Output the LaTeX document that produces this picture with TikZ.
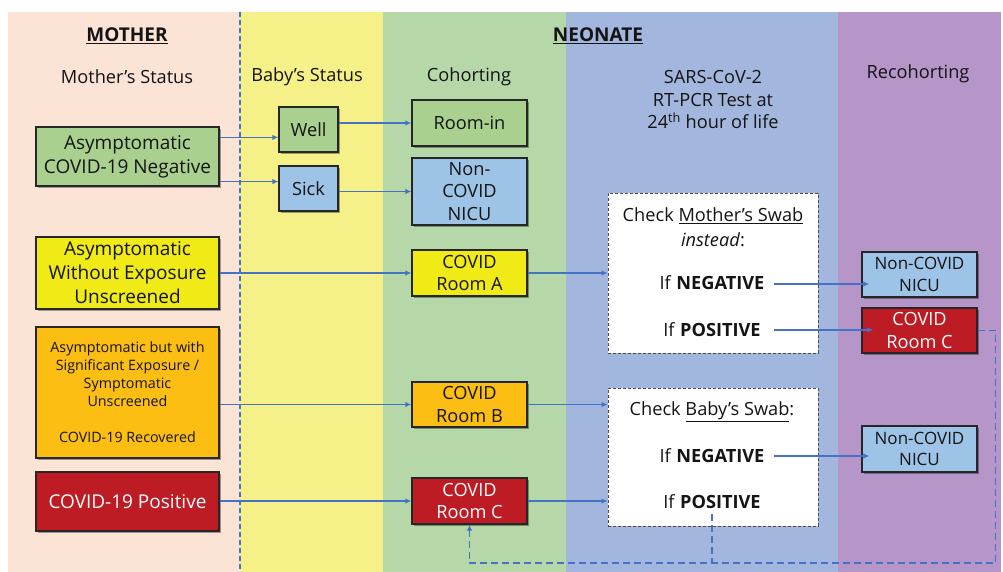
\documentclass[tikz,border=0pt]{standalone}
\usepackage{fontspec}
\setmainfont{Open Sans}
\usetikzlibrary{shadows,arrows.meta,calc}
\definecolor{bgpink}{RGB}{251,227,214}
\definecolor{bgyellow}{RGB}{245,240,135}
\definecolor{bggreen}{RGB}{182,215,168}
\definecolor{bgblue}{RGB}{163,183,222}
\definecolor{bgpurple}{RGB}{182,149,200}
\definecolor{bxgreen}{RGB}{169,208,142}
\definecolor{bxblue}{RGB}{157,195,230}
\definecolor{bxyellow}{RGB}{240,234,22}
\definecolor{bxorange}{RGB}{252,190,18}
\definecolor{bxred}{RGB}{190,28,36}
\definecolor{lnblue}{RGB}{68,114,196}
\definecolor{txt}{RGB}{20,20,20}
\newcommand\fsHead{\fontsize{19}{22}\selectfont}
\newcommand\fsCol{\fontsize{18.2}{22.5}\selectfont}
\newcommand\fsBox{\fontsize{19}{24}\selectfont}
\newcommand\fsMid{\fontsize{18.2}{22.5}\selectfont}
\newcommand\fsRe{\fontsize{17}{21.5}\selectfont}
\newcommand\fsSmall{\fontsize{14.3}{18}\selectfont}
\begin{document}
\begin{tikzpicture}[x=1pt,y=-1pt,
  box/.style={draw=black!85, line width=1.2pt, inner sep=0pt, align=center, text=txt,
    drop shadow={shadow xshift=2pt,shadow yshift=-2pt,opacity=0.35,fill=black}},
  chk/.style={draw=black!70, densely dashed, line width=0.8pt, fill=white, inner sep=0pt},
  lbl/.style={inner sep=1pt, align=center, text=txt},
  conn/.style={draw=lnblue, line width=1.4pt, -{Latex[length=6pt,width=5.5pt]}},
  dconn/.style={draw=lnblue, line width=1.4pt, dash pattern=on 7pt off 4pt},
]
\useasboundingbox (0,0) rectangle (1003,572);
\fill[white] (0,0) rectangle (1003,572);
% background bands
\fill[bgpink]   (8,12) rectangle (240,572);
\fill[bgyellow] (240,12) rectangle (383,572);
\fill[bggreen]  (383,12) rectangle (566,572);
\fill[bgblue]   (566,12) rectangle (838,572);
\fill[bgpurple] (838,12) rectangle (1001,572);
\draw[lnblue, line width=1.2pt, dash pattern=on 5pt off 3pt] (240,12) -- (240,572);

% headers
\node[lbl, font=\fsHead\bfseries] (hmother) at (127,36) {\underline{MOTHER}};
\node[lbl, font=\fsHead\bfseries] (hneonate) at (598,36) {\underline{NEONATE}};
\node[lbl, font=\fsCol] (cmother) at (127,77) {Mother’s Status};
\node[lbl, font=\fsCol] (cbaby) at (307,77) {Baby’s Status};
\node[lbl, font=\fsCol] (ccohort) at (469,77) {Cohorting};
\node[lbl, font=\fsCol, align=center] (ctest) at (713,100) {SARS-CoV-2\\RT-PCR Test at\\24\textsuperscript{th} hour of life};
\node[lbl, font=\fsCol] (crecohort) at (918,74) {Recohorting};

% mother column
\node[box, fill=bxgreen, minimum width=183pt, minimum height=59pt, font=\fsBox] (mg) at (127.5,156.5) {Asymptomatic\\COVID-19 Negative};
\node[box, fill=bxyellow, minimum width=183pt, minimum height=72pt, font=\fsBox] (my) at (127.5,273) {Asymptomatic\\Without Exposure\\Unscreened};
\node[box, fill=bxorange, minimum width=183pt, minimum height=131pt, font=\fsSmall] (mo) at (127.5,392.5) {Asymptomatic but with\\Significant Exposure /\\Symptomatic\\Unscreened\\[18pt]COVID-19 Recovered};
\node[box, fill=bxred, minimum width=183pt, minimum height=59pt, font=\fsBox, text=white] (mr) at (127.5,501.5) {COVID-19 Positive};

% baby's status
\node[box, fill=bxgreen, minimum width=59pt, minimum height=45pt, font=\fsMid] (well) at (308.5,129.5) {Well};
\node[box, fill=bxblue, minimum width=59pt, minimum height=45pt, font=\fsMid] (sick) at (308.5,188.5) {Sick};

% cohorting
\node[box, fill=bxgreen, minimum width=115pt, minimum height=46pt, font=\fsMid] (roomin) at (469.5,123) {Room-in};
\node[box, fill=bxblue, minimum width=115pt, minimum height=67pt, font=\fsMid] (nicu) at (469.5,191.5) {Non-\\COVID\\NICU};
\node[box, fill=bxyellow, minimum width=115pt, minimum height=46pt, font=\fsMid] (rooma) at (469.5,273) {COVID\\Room A};
\node[box, fill=bxorange, minimum width=115pt, minimum height=45pt, font=\fsMid] (roomb) at (469.5,404.5) {COVID\\Room B};
\node[box, fill=bxred, minimum width=115pt, minimum height=46pt, font=\fsMid, text=white] (roomc) at (469.5,501) {COVID\\Room C};

% check boxes
\node[chk, minimum width=210pt, minimum height=160pt] (checkm) at (713,273) {};
\node[chk, minimum width=210pt, minimum height=138pt] (checkb) at (713,457) {};
\node[lbl, font=\fsMid] (cm1) at (713,216) {Check \underline{Mother’s Swab}};
\node[lbl, font=\fsMid] (cm2) at (713,240) {\textit{instead}:};
\node[lbl, font=\fsMid] (negm) at (712,283) {If \textbf{NEGATIVE}};
\node[lbl, font=\fsMid] (posm) at (712,330) {If \textbf{POSITIVE}};
\node[lbl, font=\fsMid] (cb1) at (712,412) {Check \underline{Baby’s Swab}:};
\node[lbl, font=\fsMid] (negb) at (712,456) {If \textbf{NEGATIVE}};
\node[lbl, font=\fsMid] (posb) at (712,502) {If \textbf{POSITIVE}};

% recohorting
\node[box, fill=bxblue, minimum width=115pt, minimum height=45pt, font=\fsRe] (nicu2) at (919.5,274.5) {Non-COVID\\NICU};
\node[box, fill=bxred, minimum width=115pt, minimum height=45pt, font=\fsMid, text=white] (roomc2) at (919.5,330.5) {COVID\\Room C};
\node[box, fill=bxblue, minimum width=115pt, minimum height=46pt, font=\fsRe] (nicu3) at (919.5,449) {Non-COVID\\NICU};

\coordinate (bot) at (0,563);

% connectors
\draw[conn] ([yshift=-11pt]mg.north east) -- ([yshift=-11pt]mg.north east -| well.west);
\draw[conn] ([yshift=5pt]mg.south east) -- ([yshift=5pt]mg.south east -| sick.west);
\draw[conn] (well.east |- roomin.west) -- (roomin.west);
\draw[conn] (sick.east |- nicu.west) -- (nicu.west);
\draw[conn] (my.east) -- (rooma.west);
\draw[conn] (rooma.east) -- (rooma.east -| checkm.west);
\draw[conn] (mo.east |- roomb.west) -- (roomb.west);
\draw[conn] (roomb.east) -- (roomb.east -| checkb.west);
\draw[conn] (mr.east |- roomc.west) -- (roomc.west);
\draw[conn] (roomc.east) -- (roomc.east -| checkb.west);
\draw[conn] ([xshift=8pt,yshift=-1pt]negm.east) -- ([xshift=8pt,yshift=-1pt]negm.east -| nicu2.west);
\draw[conn] ([xshift=12pt]posm.east) -- ([xshift=12pt]posm.east -| roomc2.west);
\draw[conn] ([xshift=8pt]negb.east) -- ([xshift=8pt]negb.east -| nicu3.west);
\draw[dconn, -{Latex[length=6pt,width=5.5pt]}] (roomc2.east) -- ([xshift=18pt]roomc2.east) |- (roomc.south |- bot) -- (roomc.south);
\draw[dconn] ([yshift=-4pt]posb.south) -- (posb.south |- bot);
\end{tikzpicture}
\end{document}
